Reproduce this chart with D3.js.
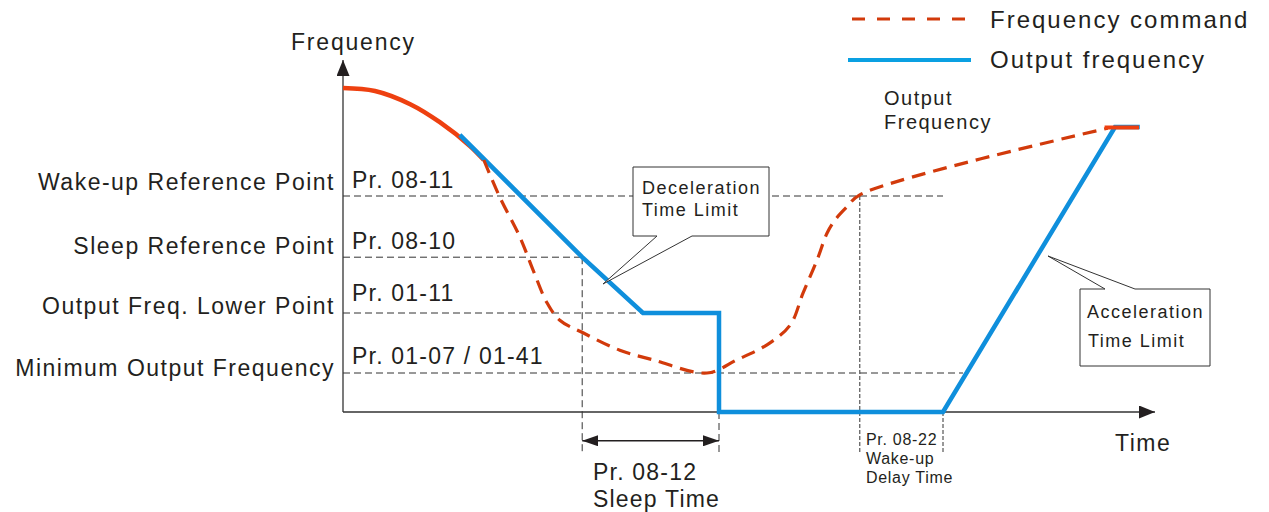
<!DOCTYPE html>
<html lang="en">
<head>
<meta charset="UTF-8">
<title>Sleep / Wake-up timing</title>
<script src="https://d3js.org/d3.v7.min.js"></script>
<style>
  body { margin: 0; background: #fff; }
  text { font-family: "Liberation Sans", Arial, sans-serif; fill: #231f20; }
</style>
</head>
<body>
<svg id="main" width="1269" height="512"></svg>
<script>
// reference levels (Hz) and where each guide line stops (s)
const levelNames = ['Wake-up Reference Point', 'Sleep Reference Point', 'Output Freq. Lower Point', 'Minimum Output Frequency'];
const levelParams = ['Pr. 08-11', 'Pr. 08-10', 'Pr. 01-11', 'Pr. 01-07 / 01-41'];
const levelValues = [36, 25.8, 16.5, 6.5];
const levelEnds = [75, 29.9, 37.5, 77.5];

// output frequency (blue)
const outputT = [14.6, 29.9, 37.5, 47, 47, 75, 96.5, 99.6];
const outputF = [46.2, 25.8, 16.5, 16.5, 0, 0, 47.5, 47.5];

// frequency command: solid head, dashed body, solid tail
const startT = [0, 4, 8.4, 12.1, 15.9, 17.6];
const startF = [54, 53.5, 51.3, 48.3, 44.3, 42];
const commandT = [17.6, 19.6, 22.1, 23.75, 25.5, 27.1, 30, 34.6, 38.75, 45.5, 49.25, 53, 55.9, 57.5, 59.25, 60.5, 61.5, 63, 64.6, 95.6];
const commandF = [42, 35.8, 29.2, 23.7, 18.2, 15.3, 13.2, 10.3, 8.7, 6.5, 8.7, 11.2, 14.5, 19.8, 25.3, 29.8, 32, 34.2, 36.2, 47.3];
const tailT = [95.2, 99.5];
const tailF = [47.4, 47.4];

// vertical time markers
const markT = [29.9, 47, 64.6, 75];
const markTop = [25.8, 0, 36, 0];
const markBottom = -6.8;
const sleepSpan = [29.9, 47];
const sleepArrowF = -4.8;

const svg = d3.select('#main');
const x = d3.scaleLinear().domain([0, 100]).range([343, 1143]);
const y = d3.scaleLinear().domain([0, 60]).range([412, 52]);

const red = '#d23a0b', redSolid = '#ee4010', blue = '#0f8fdc';

const defs = svg.append('defs');
function arrow(id, w, h) {
  defs.append('marker').attr('id', id)
    .attr('markerUnits', 'userSpaceOnUse')
    .attr('viewBox', `0 0 ${w} ${h}`)
    .attr('refX', w).attr('refY', h / 2)
    .attr('markerWidth', w).attr('markerHeight', h)
    .attr('orient', 'auto-start-reverse')
    .append('path').attr('d', `M0,0 L${w},${h / 2} L0,${h} Z`)
    .attr('fill', '#231f20');
}
arrow('axisArrow', 16, 13);
arrow('spanArrow', 16, 11);

// guide lines
const guides = svg.append('g').attr('stroke', '#333').attr('stroke-width', 1).attr('fill', 'none');
levelValues.forEach(function(v, i) {
  guides.append('line')
    .attr('x1', x(0)).attr('x2', x(levelEnds[i]))
    .attr('y1', y(v)).attr('y2', y(v))
    .attr('stroke-dasharray', '7,4');
});
markT.forEach(function(t, i) {
  guides.append('line')
    .attr('x1', x(t)).attr('x2', x(t))
    .attr('y1', y(markTop[i])).attr('y2', y(markBottom))
    .attr('stroke-dasharray', i < 2 ? '7,4' : '4,2');
});

// axes
svg.append('line').attr('x1', x(0)).attr('y1', y(0)).attr('x2', x(0)).attr('y2', 60)
  .attr('stroke', '#333').attr('stroke-width', 1.3).attr('marker-end', 'url(#axisArrow)');
svg.append('line').attr('x1', x(0)).attr('y1', y(0)).attr('x2', 1155).attr('y2', y(0))
  .attr('stroke', '#333').attr('stroke-width', 1.3).attr('marker-end', 'url(#axisArrow)');

// sleep time span arrow
svg.append('line')
  .attr('x1', x(sleepSpan[0])).attr('x2', x(sleepSpan[1]))
  .attr('y1', y(sleepArrowF)).attr('y2', y(sleepArrowF))
  .attr('stroke', '#231f20').attr('stroke-width', 1.5)
  .attr('marker-start', 'url(#spanArrow)').attr('marker-end', 'url(#spanArrow)');

function pts(ts, fs) { return ts.map(function(t, i) { return [t, fs[i]]; }); }
const smooth = d3.line().x(d => x(d[0])).y(d => y(d[1])).curve(d3.curveCatmullRom.alpha(0.5));
const straight = d3.line().x(d => x(d[0])).y(d => y(d[1]));

svg.append('path').attr('d', smooth(pts(startT, startF)))
  .attr('fill', 'none').attr('stroke', redSolid).attr('stroke-width', 4.5);
svg.append('path').attr('d', straight(pts(outputT, outputF)))
  .attr('fill', 'none').attr('stroke', blue).attr('stroke-width', 4.5).attr('stroke-linejoin', 'miter');
svg.append('path').attr('d', smooth(pts(commandT, commandF)))
  .attr('fill', 'none').attr('stroke', red).attr('stroke-width', 3.2).attr('stroke-dasharray', '14,8');
svg.append('path').attr('d', straight(pts(tailT, tailF)))
  .attr('fill', 'none').attr('stroke', redSolid).attr('stroke-width', 4);

// callout boxes
svg.append('path').attr('d', 'M633,167 H769 V236 H692 L603,284 L657,236 H633 Z')
  .attr('fill', '#fff').attr('stroke', '#333').attr('stroke-width', 1);
svg.append('path').attr('d', 'M1080,289 H1105 L1048,256 L1135,289 H1210 V366 H1080 Z')
  .attr('fill', '#fff').attr('stroke', '#333').attr('stroke-width', 1);

function label(txt, px, py, size, spacing, anchor) {
  return svg.append('text').attr('x', px).attr('y', py)
    .attr('font-size', size).attr('letter-spacing', spacing)
    .attr('text-anchor', anchor || 'start').text(txt);
}

// level labels
const nameShift = [-6, -3, 1, 3];
const paramShift = [-8, -8, -12, -9];
levelNames.forEach(function(n, i) {
  label(n, 335, y(levelValues[i]) + nameShift[i], 23, 1.5, 'end');
  label(levelParams[i], 352, y(levelValues[i]) + paramShift[i], 23, 1.2);
});

label('Frequency', 291, 50, 23, 1.8);
label('Time', 1115, 451, 23, 1.5);

label('Deceleration', 642, 194, 18, 1.5);
label('Time Limit', 642, 216, 18, 1.5);
label('Acceleration', 1087, 318, 18, 1.5);
label('Time Limit', 1088, 347, 18, 1.5);

label('Output', 884, 105, 20, 1.5);
label('Frequency', 884, 129, 20, 1.5);

label('Pr. 08-12', 593, 480, 23, 1.2);
label('Sleep Time', 593, 507, 23, 1.2);
label('Pr. 08-22', 866, 445, 16, 0.7);
label('Wake-up', 866, 464, 16, 0.7);
label('Delay Time', 866, 483, 16, 0.7);

// legend
svg.append('line').attr('x1', 852).attr('x2', 975).attr('y1', 19).attr('y2', 19)
  .attr('stroke', red).attr('stroke-width', 3).attr('stroke-dasharray', '13,12');
svg.append('line').attr('x1', 848).attr('x2', 971).attr('y1', 60).attr('y2', 60)
  .attr('stroke', '#0aa0e2').attr('stroke-width', 4);
label('Frequency command', 990, 28, 24, 2);
label('Output frequency', 990, 68, 24, 2);
</script>
</body>
</html>
